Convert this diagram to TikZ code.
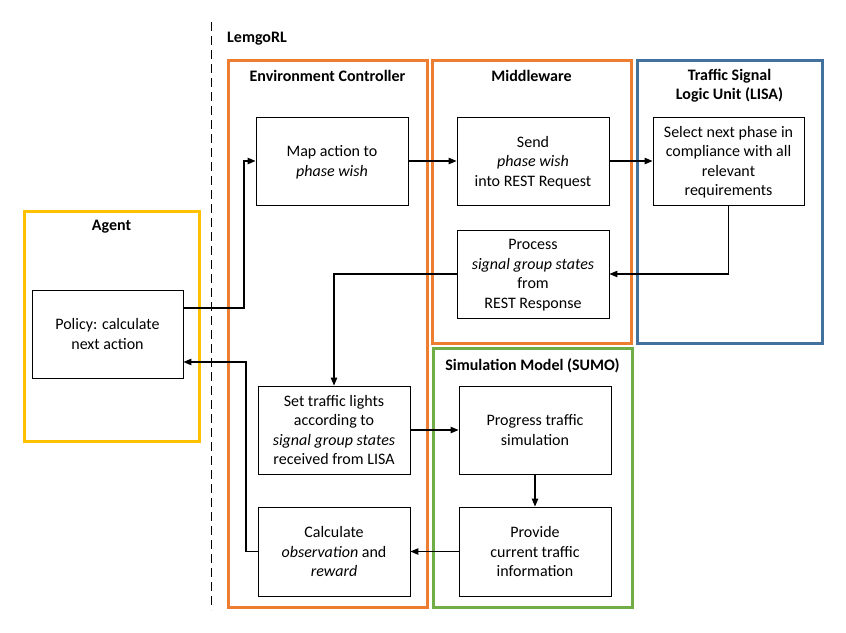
\documentclass[tikz,border=0pt]{standalone}
\usepackage{fontspec}
\setmainfont{Carlito}
\usetikzlibrary{arrows.meta}
\definecolor{corange}{HTML}{ED7D31}
\definecolor{cblue}{HTML}{41719C}
\definecolor{cgreen}{HTML}{70AD47}
\definecolor{cgold}{HTML}{FFC000}
\begin{document}
\begin{tikzpicture}[x=1pt,y=-1pt,
  frame/.style={draw=#1,line width=3pt,minimum width=\fw,minimum height=\fh,inner sep=0pt},
  box/.style={draw=black,line width=0.9pt,fill=white,minimum width=152pt,minimum height=88pt,align=center,inner sep=2pt,text depth=0pt,font=\fontsize{16}{19.5}\selectfont},
  ttl/.style={font=\fontsize{16}{19.5}\selectfont\bfseries,align=center,inner sep=0pt},
  arr/.style={line width=1.1pt,-{Triangle[length=8pt,width=6.5pt]}}]
\useasboundingbox (0,0) rectangle (846,632);
% frames
\def\fw{175pt}\def\fh{230pt}
\node[frame=cgold] (agentF) at (111.5,326) {};
\def\fw{199pt}\def\fh{547pt}
\node[frame=corange] (envF) at (327.5,333.5) {};
\def\fw{199pt}\def\fh{283pt}
\node[frame=corange] (midF) at (531.5,201.5) {};
\def\fw{185pt}\def\fh{283pt}
\node[frame=cblue] (lisaF) at (729.5,201.5) {};
\def\fw{199pt}\def\fh{259pt}
\node[frame=cgreen] (sumoF) at (532.5,477.5) {};
% dashed separator
\coordinate (dTop) at (211,22);
\coordinate (dBot) at (211,610);
\draw[line width=1pt,dash pattern=on 9pt off 5pt] (dTop) -- (dBot);
% titles
\node[ttl,anchor=west] (lemgo) at (227,39) {LemgoRL};
\node[ttl] (agentT) at (111.5,227) {Agent};
\node[ttl] (envT) at (327.5,76) {Environment Controller};
\node[ttl] (midT) at (531.5,76) {Middleware};
\node[ttl] (lisaT) at (729.5,85.5) {Traffic Signal\\Logic Unit (LISA)};
\node[ttl] (sumoT) at (532.5,366) {Simulation Model (SUMO)};
% boxes
\node[box,minimum width=151pt] (policy) at (107.5,334) {Policy: calculate\\next action};
\node[box] (map) at (332,161) {Map action to\\\textit{phase wish}};
\node[box] (send) at (533,161) {Send\\\textit{phase wish}\\into REST Request};
\node[box,minimum width=151pt] (select) at (728.5,161) {Select next phase in\\compliance with all\\relevant\\requirements};
\node[box] (process) at (533,274) {Process\\\textit{signal group states}\\from\\REST Response};
\node[box] (set) at (334,430) {Set traffic lights\\according to\\\textit{signal group states}\\received from LISA};
\node[box] (progress) at (535,430) {Progress traffic\\simulation};
\node[box,minimum height=89pt] (calc) at (334,551.5) {Calculate\\\textit{observation} and\\\textit{reward}};
\node[box,minimum height=89pt] (provide) at (535,551.5) {Provide\\current traffic\\information};
% connectors
\coordinate (c1) at (244,308);
\draw[arr] (policy.east |- c1) -- (c1) |- (map.west);
\draw[arr] (map) -- (send);
\draw[arr] (send) -- (select);
\draw[arr] (select.south) |- (process.east);
\draw[arr] (process.west) -| (set.north);
\draw[arr] (set) -- (progress);
\draw[arr] (progress) -- (provide);
\draw[arr] (provide) -- (calc);
\coordinate (c9) at (246,362);
\draw[arr] (calc.west) -| (c9) -- (policy.east |- c9);
\end{tikzpicture}
\end{document}
